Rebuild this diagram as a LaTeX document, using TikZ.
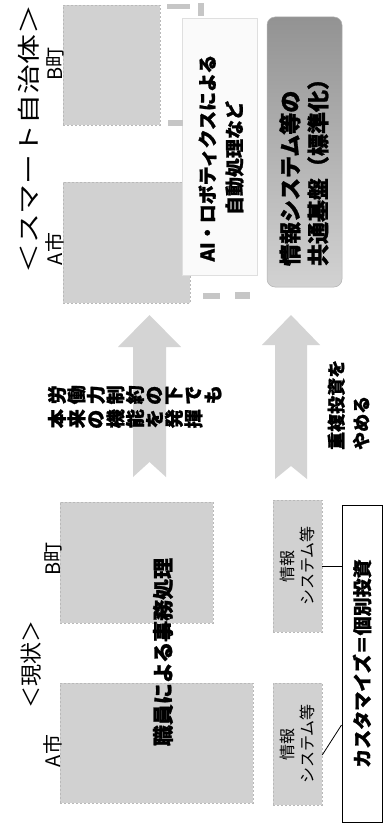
\documentclass[tikz,border=0pt]{standalone}
\usepackage{graphicx}
\usepackage{fontspec}
\setmainfont{Noto Sans CJK JP}[BoldFeatures={FakeBold=1.2}]
\usetikzlibrary{calc}
\newcommand\rotglyph[1]{\makebox[19.5pt][c]{\rotatebox[origin=c]{90}{#1}}}
\begin{document}
\begin{tikzpicture}[x=1pt,y=-1pt,
  graybox/.style={fill=gray!36, draw=gray!55, dash pattern=on 2pt off 2pt, line width=0.5pt, inner sep=0pt},
  vtext/.style={rotate=90, inner sep=0pt, text=black},
  bigarrow/.style={fill=gray!34, draw=none},
  speck/.style={fill=gray!45, draw=none}]
\useasboundingbox (0,0) rectangle (385,824);
\fill[white] (0,0) rectangle (385,824);

% ---------- smart municipality side ----------
\node[graybox, minimum width=97pt, minimum height=120pt] (smartB) at (111.5,65) {};
\node[graybox, minimum width=127pt, minimum height=121pt] (smartA) at (126.5,242.5) {};
\node[fill=gray!4, draw=gray!25, line width=0.5pt, minimum width=75pt, minimum height=257pt, inner sep=0pt] (aibox) at (219.5,146.5) {};
\node[rounded corners=8pt, top color=gray!85, bottom color=gray!35, draw=gray!60, line width=0.5pt,
      minimum width=75pt, minimum height=270pt, inner sep=0pt] (platform) at (304.5,152) {};

% small specks left over around the boxes
\fill[speck] (167,4) rectangle (190,9);
\fill[speck] (198,3) rectangle (204,16);
\fill[speck] (168,120) rectangle (183,126);
\fill[speck] (203,293) rectangle (220,299);
\fill[speck] (235,292) rectangle (250,299);

\node[vtext, font=\fontsize{23}{28}\selectfont] (smarttitle) at (29,139) {\scalebox{1.3}[1]{＜スマート自治体＞}};
\node[vtext, font=\fontsize{20}{24}\selectfont] (smartAlabel) at (55,249) {A市};
\node[vtext, font=\fontsize{20}{24}\selectfont] (smartBlabel) at (55,64) {B町};

\node[vtext, font=\fontsize{19}{27}\selectfont\bfseries, align=center] (aitext) at (221,158)
  {AI・ロボティクスによる\\自動処理など};
\node[vtext, font=\fontsize{22}{28}\selectfont\bfseries, align=left] (pftext) at (304,167)
  {情報システム等の\\共通基盤（標準化）};

% ---------- arrows ----------
\coordinate (arrAtip) at (149.5,315);
\fill[bigarrow] (arrAtip) -- (181,347) -- (166,347) -- (166,477) -- (149.5,462)
  -- (133,477) -- (133,347) -- (118,347) -- cycle;
\coordinate (arrBtip) at (291,315);
\fill[bigarrow] (arrBtip) -- (320,345) -- (307,345) -- (307,479) -- (291,466)
  -- (275,479) -- (275,345) -- (262,345) -- cycle;

\node[anchor=north west, inner sep=0pt, align=left, font=\fontsize{19}{24}\selectfont\bfseries] (laborText) at (47,385)
  {\rotglyph{労}\rotglyph{働}\rotglyph{力}\rotglyph{制}\rotglyph{約}\rotglyph{の}\rotglyph{下}\rotglyph{で}\rotglyph{も}\\
   \rotglyph{本}\rotglyph{来}\rotglyph{の}\rotglyph{機}\rotglyph{能}\rotglyph{を}\rotglyph{発}\rotglyph{揮}};

\node[vtext, anchor=west, font=\fontsize{18}{25}\selectfont\bfseries, align=left] (duptext) at (348.5,450)
  {重複投資を\\やめる};

% ---------- current state side ----------
\node[graybox, minimum width=153pt, minimum height=121pt] (curB) at (136.5,562.5) {};
\node[graybox, minimum width=193pt, minimum height=120pt] (curA) at (156.5,743) {};
\node[graybox, minimum width=49pt, minimum height=132pt] (infoB) at (297.5,566) {};
\node[graybox, minimum width=49pt, minimum height=122pt] (infoA) at (297.5,744) {};
\node[draw=black, fill=white, line width=1pt, minimum width=40pt, minimum height=317pt, inner sep=0pt] (custom) at (362,663.5) {};

\node[vtext, font=\fontsize{22}{26}\selectfont] (curtitle) at (31,664) {＜現状＞};
\node[vtext, font=\fontsize{20}{24}\selectfont] (curAlabel) at (53,751) {A市};
\node[vtext, font=\fontsize{20}{24}\selectfont] (curBlabel) at (53,559) {B町};

\node[vtext, font=\fontsize{21}{25}\selectfont\bfseries] (worktext) at (163,652) {職員による事務処理};
\node[vtext, font=\fontsize{16}{20}\selectfont, align=center] (infoBtext) at (infoB.center) {情報\\システム等};
\node[vtext, font=\fontsize{16}{20}\selectfont, align=center] (infoAtext) at (infoA.center) {情報\\システム等};
\node[vtext, font=\fontsize{19}{23}\selectfont\bfseries] (customtext) at (custom.center) {カスタマイズ＝個別投資};

\draw[line width=0.8pt] (infoB.east) -- (infoB.east -| custom.west);
\draw[line width=0.8pt] ($(infoA.east)+(0,11)$) -- ($(infoA.east -| custom.west)+(0,-19)$);
\end{tikzpicture}
\end{document}
